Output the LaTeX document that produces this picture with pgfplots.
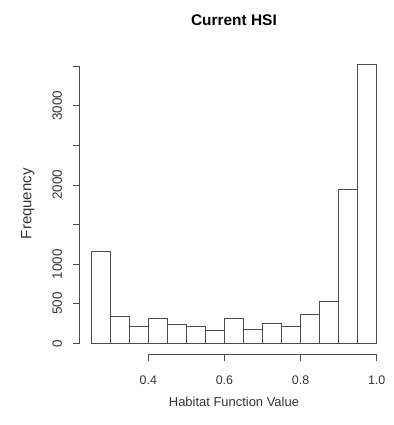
\documentclass[border=0pt]{standalone}
\usepackage{fontspec}
\setmainfont{Liberation Sans}
\usepackage{pgfplots}
\pgfplotsset{compat=1.18}
\definecolor{ln}{gray}{0.3}
\definecolor{tx}{gray}{0.2}
\begin{document}
\begin{tikzpicture}
\begin{axis}[
  at={(0,0)}, anchor=south west,
  scale only axis, width=308.3bp, height=301.4bp,
  xmin=0.22, xmax=1.03, ymin=-141, ymax=3664,
  clip=false,
  axis line style={draw=none},
  xtick={0.4,0.6,0.8,1.0}, xticklabels={0.4,0.6,0.8,1.0},
  ytick={0,500,1000,1500,2000,2500,3000,3500},
  yticklabels={0,500,1000,,2000,,3000,},
  tick pos=left,
  tick align=outside, major tick length=6.5bp,
  tick style={ln, line width=0.8bp},
  /pgf/number format/assume math mode=true,
  xticklabel style={font=\fontsize{12.5}{14}\selectfont, text=tx, anchor=north, inner sep=0pt, yshift=-15bp},
  yticklabel style={font=\fontsize{13.5}{15}\selectfont, text=tx, xshift=-11bp, rotate=90, anchor=south, inner sep=0pt},
]
\addplot[ybar interval, draw=ln, fill=white, line width=0.8bp] coordinates {
(0.25,1160) (0.30,345) (0.35,219) (0.40,320) (0.45,236) (0.50,215)
(0.55,160) (0.60,311) (0.65,177) (0.70,253) (0.75,210) (0.80,362)
(0.85,526) (0.90,1944) (0.95,3520) (1.00,3520)};
\draw[ln, line width=0.8bp] (axis cs:0.22,0) -- (axis cs:0.22,3500);
\draw[ln, line width=0.8bp] (axis cs:0.4,-141) -- (axis cs:1.0,-141);
\node[text=tx, font=\fontsize{13}{15}\selectfont] at ([yshift=-47.5bp]rel axis cs:0.5,0) {Habitat Function Value};
\node[text=tx, rotate=90, font=\fontsize{15}{17}\selectfont] at ([xshift=-52bp]rel axis cs:0,0.5) {Frequency};
\node[text=black, font=\fontsize{15.5}{17}\selectfont\bfseries] at ([yshift=33bp]rel axis cs:0.5,1) {Current HSI};
\end{axis}
\pgfresetboundingbox
\path[use as bounding box] (-79.8bp,-70.5bp) rectangle (314.2bp,354.5bp);
\end{tikzpicture}
\end{document}
